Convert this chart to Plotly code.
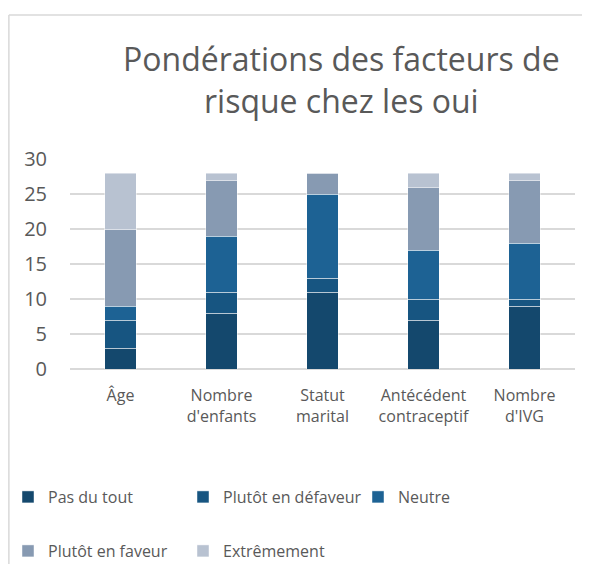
import plotly.graph_objects as go

categories = ["Âge", "Nombre<br>d'enfants", "Statut<br>marital", "Antécédent<br>contraceptif", "Nombre<br>d'IVG"]
series_names = ["Pas du tout", "Plutôt en défaveur", "Neutre", "Plutôt en faveur", "Extrêmement"]
pas_du_tout = [3, 8, 11, 7, 9]
plutot_defaveur = [4, 3, 2, 3, 1]
neutre = [2, 8, 12, 7, 8]
plutot_faveur = [11, 8, 3, 9, 9]
extremement = [8, 1, 0, 2, 1]
series_values = [pas_du_tout, plutot_defaveur, neutre, plutot_faveur, extremement]
colors = ["#14486D", "#175581", "#1D6294", "#879AB2", "#B8C2D1"]
y_ticks = [0, 5, 10, 15, 20, 25, 30]

OFF = 8  # page body margin
W, H = 590 - OFF, 572 - 2 * OFF
FONT = "Open Sans"
GREY = "#595959"

fig = go.Figure()
for i, (name, vals, col) in enumerate(zip(series_names, series_values, colors)):
    fig.add_trace(go.Bar(
        x=categories, y=vals, name=name,
        marker=dict(color=col, line=dict(color="rgba(255,255,255,0.45)", width=1)),
        legend="legend" if i < 3 else "legend2",
    ))

def px_x(p):
    return (p - OFF) / W

def px_y(p):
    return 1 - (p - OFF) / H

fig.update_layout(
    width=W, height=H,
    margin=dict(l=0, r=0, t=0, b=0, autoexpand=False),
    paper_bgcolor="white", plot_bgcolor="white",
    barmode="stack", bargap=0.69,
    font=dict(family=FONT, color=GREY),
    xaxis=dict(domain=[px_x(70), px_x(575)], showgrid=False, showline=False, automargin=False,
               ticks="", ticklabelstandoff=15, tickfont=dict(size=16, color=GREY, family=FONT)),
    yaxis=dict(domain=[px_y(369), px_y(159)], range=[0, 30], tickvals=y_ticks, automargin=False,
               showgrid=True, gridcolor="#D9D9D9", gridwidth=1.5,
               zeroline=True, zerolinecolor="#D9D9D9", zerolinewidth=1.5,
               showline=False, ticks="", ticklabelstandoff=22,
               tickfont=dict(size=20, color=GREY, family=FONT)),
    legend=dict(orientation="h", x=0, y=px_y(497), yanchor="middle", xanchor="left",
                entrywidth=130, entrywidthmode="pixels", traceorder="normal",
                font=dict(size=16, color=GREY, family=FONT), bgcolor="rgba(0,0,0,0)"),
    legend2=dict(orientation="h", x=0, y=px_y(551), yanchor="middle", xanchor="left",
                 entrywidth=130, entrywidthmode="pixels", traceorder="normal",
                 font=dict(size=16, color=GREY, family=FONT), bgcolor="rgba(0,0,0,0)"),
    annotations=[dict(text="Pondérations des facteurs de<br>risque chez les oui",
                      xref="paper", yref="paper", x=px_x(341), y=px_y(80),
                      xanchor="center", yanchor="middle", showarrow=False,
                      font=dict(size=32, color=GREY, family=FONT))],
    shapes=[
        dict(type="line", xref="paper", yref="paper", x0=0.0015, x1=1, y0=px_y(15), y1=px_y(15),
             line=dict(color="#D9D9D9", width=1.5)),
        dict(type="line", xref="paper", yref="paper", x0=0.0015, x1=0.0015, y0=-0.1, y1=px_y(15),
             line=dict(color="#D9D9D9", width=1.5)),
    ],
)

fig.write_html("out.html")
